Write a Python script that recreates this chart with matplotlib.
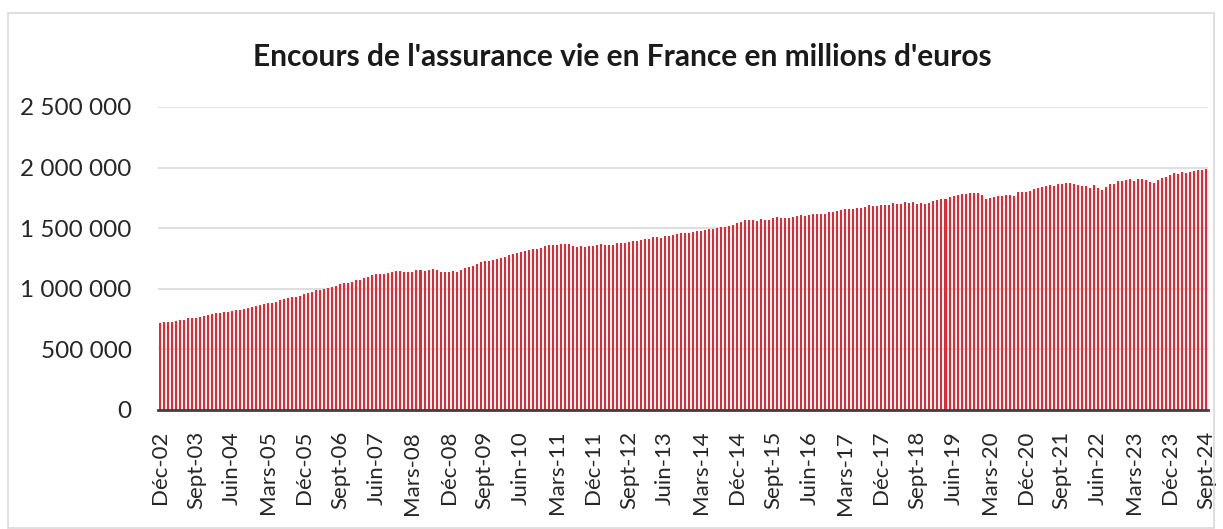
import matplotlib.pyplot as plt
from matplotlib.patches import Rectangle
from matplotlib.ticker import FuncFormatter

# === Data: monthly outstanding, Dec 2002 -> Sept 2024 (millions of euros) ===
start_year = 2002
start_month = 12
month_names = ["Janv", "Févr", "Mars", "Avr", "Mai", "Juin",
               "Juil", "Août", "Sept", "Oct", "Nov", "Déc"]

encours = [
    716000,
    722000, 722000, 725000, 736000, 741000, 744000, 755000, 758000, 760000, 769000, 774000, 780000,
    791000, 799000, 804000, 807000, 810000, 815000, 826000, 829000, 835000, 843000, 848000, 854000,
    868000, 876000, 881000, 884000, 895000, 906000, 915000, 920000, 931000, 934000, 942000, 953000,
    964000, 975000, 989000, 994000, 1000000, 1008000, 1016000, 1027000, 1036000, 1047000, 1050000, 1058000,
    1069000, 1074000, 1088000, 1099000, 1110000, 1118000, 1124000, 1124000, 1132000, 1140000, 1143000, 1146000,
    1135000, 1140000, 1140000, 1151000, 1157000, 1149000, 1154000, 1163000, 1154000, 1140000, 1140000, 1140000,
    1143000, 1140000, 1154000, 1168000, 1179000, 1187000, 1204000, 1217000, 1226000, 1229000, 1240000, 1248000,
    1251000, 1262000, 1278000, 1289000, 1292000, 1306000, 1308000, 1320000, 1328000, 1328000, 1339000, 1350000,
    1358000, 1358000, 1364000, 1366000, 1369000, 1366000, 1355000, 1347000, 1355000, 1344000, 1350000, 1355000,
    1364000, 1366000, 1361000, 1358000, 1364000, 1375000, 1380000, 1377000, 1386000, 1391000, 1397000, 1405000,
    1410000, 1413000, 1424000, 1430000, 1419000, 1435000, 1435000, 1444000, 1452000, 1460000, 1457000, 1460000,
    1471000, 1477000, 1479000, 1488000, 1493000, 1493000, 1504000, 1510000, 1510000, 1518000, 1523000, 1543000,
    1554000, 1564000, 1568000, 1568000, 1559000, 1576000, 1568000, 1564000, 1584000, 1592000, 1584000, 1584000,
    1587000, 1592000, 1598000, 1606000, 1601000, 1611000, 1617000, 1617000, 1617000, 1620000, 1634000, 1631000,
    1639000, 1650000, 1658000, 1658000, 1658000, 1664000, 1664000, 1675000, 1689000, 1686000, 1686000, 1694000,
    1694000, 1689000, 1705000, 1700000, 1702000, 1713000, 1708000, 1713000, 1702000, 1705000, 1697000, 1711000,
    1722000, 1730000, 1744000, 1738000, 1758000, 1763000, 1771000, 1780000, 1782000, 1788000, 1791000, 1791000,
    1777000, 1744000, 1746000, 1755000, 1769000, 1769000, 1771000, 1771000, 1766000, 1799000, 1802000, 1802000,
    1810000, 1826000, 1832000, 1843000, 1851000, 1855000, 1851000, 1865000, 1862000, 1876000, 1873000, 1862000,
    1857000, 1851000, 1851000, 1832000, 1857000, 1835000, 1818000, 1840000, 1865000, 1865000, 1892000, 1892000,
    1898000, 1903000, 1892000, 1906000, 1906000, 1898000, 1879000, 1870000, 1898000, 1914000, 1923000, 1939000,
    1959000, 1950000, 1961000, 1953000, 1961000, 1975000, 1983000, 1981000, 1992000,
]

# === Month labels ===
labels = []
y, m = start_year, start_month
for _ in encours:
    labels.append(f"{month_names[m - 1]}-{y % 100:02d}")
    m += 1
    if m > 12:
        m = 1
        y += 1

positions = list(range(len(encours)))
tick_pos = positions[::9]
tick_lab = labels[::9]

# === Plot ===
plt.rcParams["font.family"] = ["Lato", "DejaVu Sans"]

fig = plt.figure(figsize=(12.23, 5.29), dpi=100)
ax = fig.add_axes([158 / 1223, 1 - 410 / 529, 1050 / 1223, 303 / 529])

ax.bar(positions, encours, width=0.5, color="#EC2630", linewidth=0, zorder=3)

ax.set_xlim(-0.5, len(encours) - 0.5)
ax.set_ylim(0, 2500000)
ax.set_yticks([0, 500000, 1000000, 1500000, 2000000, 2500000])
ax.yaxis.set_major_formatter(FuncFormatter(lambda v, p: f"{int(v):,}".replace(",", " ")))
ax.grid(axis="y", color="#D9D9D9", linewidth=1.2, zorder=0)

ax.set_xticks(tick_pos)
ax.set_xticklabels(tick_lab, rotation=90, fontsize=16, color="#262626")
ax.tick_params(axis="x", length=0, pad=15)
ax.tick_params(axis="y", length=0, pad=19, labelsize=17.5, labelcolor="#262626")

for s in ["top", "right", "left"]:
    ax.spines[s].set_visible(False)
ax.spines["bottom"].set_color("#404040")
ax.spines["bottom"].set_linewidth(2)
ax.spines["bottom"].set_zorder(4)

fig.text(0.509, 1 - 57 / 529, "Encours de l'assurance vie en France en millions d'euros",
         ha="center", va="center", fontsize=21.5, fontweight="bold", color="#1a1a1a")

# chart border
fig.patches.append(Rectangle((8 / 1223, 1 / 529), 1206 / 1223, 515 / 529,
                             transform=fig.transFigure, fill=False,
                             edgecolor="#D9D9D9", linewidth=1.2))

fig.savefig("out.png", dpi=100)
